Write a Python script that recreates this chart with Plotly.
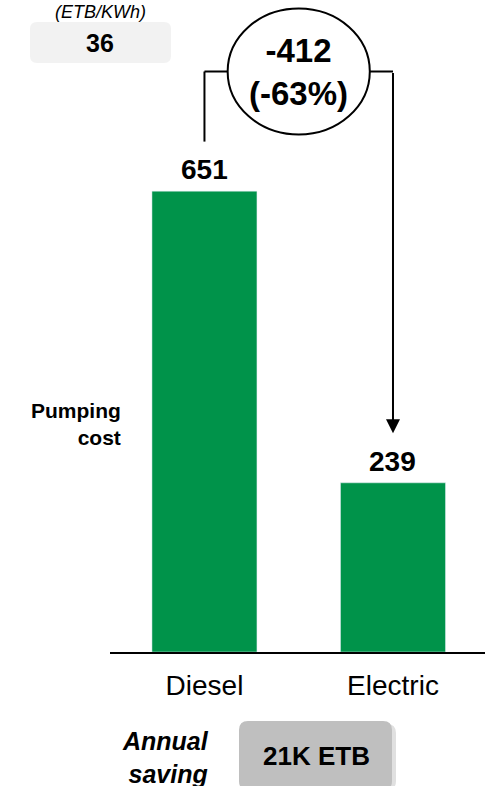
import plotly.graph_objects as go

# ---- data ----
categories = ["Diesel", "Electric"]
pumping_cost = [651, 239]
tariff_label = "(ETB/KWh)"
tariff_value = "36"
annual_saving = "21K ETB"
row_label = "Pumping<br>cost"
saving_label = "Annual<br>saving"

W, H = 485, 786
GREEN = "#00934A"
FONT = "Liberation Sans"

diff = pumping_cost[1] - pumping_cost[0]
pct = round(diff / pumping_cost[0] * 100)

def px(x):
    return x / W

def py(y):
    return 1 - y / H

def rounded_rect(x0, y0, x1, y1, r):
    # pixel coords -> paper path with quadratic corners
    rx, ry = r / W, r / H
    X0, X1 = px(x0), px(x1)
    Y0, Y1 = py(y0), py(y1)  # Y0 top (larger), Y1 bottom
    return (f"M{X0+rx},{Y0} L{X1-rx},{Y0} Q{X1},{Y0} {X1},{Y0-ry} "
            f"L{X1},{Y1+ry} Q{X1},{Y1} {X1-rx},{Y1} L{X0+rx},{Y1} "
            f"Q{X0},{Y1} {X0},{Y1+ry} L{X0},{Y0-ry} Q{X0},{Y0} {X0+rx},{Y0} Z")

fig = go.Figure()
fig.add_trace(go.Bar(x=categories, y=pumping_cost, marker_color=GREEN,
                     width=0.557, hoverinfo="skip"))

label_off = 70
bracket_y = 820
ell_rx, ell_ry = 0.377, 89

shapes = []
# bracket
shapes.append(dict(type="line", xref="x", yref="y", x0=0, x1=0,
                   y0=pumping_cost[0] + label_off, y1=bracket_y,
                   line=dict(color="black", width=2)))
shapes.append(dict(type="line", xref="x", yref="y", x0=0, x1=0.5 - ell_rx,
                   y0=bracket_y, y1=bracket_y, line=dict(color="black", width=2)))
shapes.append(dict(type="line", xref="x", yref="y", x0=0.5 + ell_rx, x1=1,
                   y0=bracket_y, y1=bracket_y, line=dict(color="black", width=2)))
shapes.append(dict(type="circle", xref="x", yref="y", x0=0.5 - ell_rx, x1=0.5 + ell_rx,
                   y0=bracket_y - ell_ry, y1=bracket_y + ell_ry,
                   line=dict(color="black", width=2), fillcolor="white"))
# tariff box
shapes.append(dict(type="path", xref="paper", yref="paper",
                   path=rounded_rect(30, 22, 171, 63, 7),
                   fillcolor="#F2F2F2", line=dict(width=0), layer="below"))
# saving box shadow + box
shapes.append(dict(type="path", xref="paper", yref="paper",
                   path=rounded_rect(242, 724, 396, 790, 9),
                   fillcolor="rgba(0,0,0,0.12)", line=dict(width=0)))
shapes.append(dict(type="path", xref="paper", yref="paper",
                   path=rounded_rect(239, 721, 392, 790, 9),
                   fillcolor="#BFBFBF", line=dict(width=0)))

annotations = []
for c, v in zip(categories, pumping_cost):
    annotations.append(dict(x=c, y=v, xref="x", yref="y", text=f"<b>{v}</b>",
                            showarrow=False, yanchor="bottom", yshift=4,
                            font=dict(size=28, color="black", family=FONT)))
annotations.append(dict(x=0.5, y=bracket_y, xref="x", yref="y",
                        text=f"<b>{diff}</b><br><b>({pct}%)</b>", showarrow=False,
                        yanchor="middle", xanchor="center",
                        font=dict(size=33, color="black", family=FONT)))
annotations.append(dict(x=1, y=pumping_cost[1] + label_off, ax=1, ay=bracket_y,
                        xref="x", yref="y", axref="x", ayref="y", text="",
                        showarrow=True, arrowhead=2, arrowsize=1.4, arrowwidth=2,
                        arrowcolor="black"))
annotations.append(dict(x=px(100), y=py(12), xref="paper", yref="paper",
                        text=f"<i>{tariff_label}</i>", showarrow=False,
                        xanchor="center", yanchor="middle",
                        font=dict(size=18, color="black", family=FONT)))
annotations.append(dict(x=px(100), y=py(43), xref="paper", yref="paper",
                        text=f"<b>{tariff_value}</b>", showarrow=False,
                        xanchor="center", yanchor="middle",
                        font=dict(size=25, color="black", family=FONT)))
annotations.append(dict(x=px(123), y=py(424), xref="paper", yref="paper",
                        text=f"<b>{row_label}</b>", showarrow=False, xanchor="right",
                        yanchor="middle", align="right",
                        font=dict(size=21, color="black", family=FONT)))
annotations.append(dict(x=px(211), y=py(757), xref="paper", yref="paper",
                        text=f"<b><i>{saving_label}</i></b>", showarrow=False,
                        xanchor="right", yanchor="middle", align="right",
                        font=dict(size=25, color="black", family=FONT)))
annotations.append(dict(x=px(316), y=py(756), xref="paper", yref="paper",
                        text=f"<b>{annual_saving}</b>", showarrow=False,
                        xanchor="center", yanchor="middle",
                        font=dict(size=26, color="black", family=FONT)))

fig.update_layout(
    width=W, height=H, margin=dict(l=0, r=0, t=0, b=0),
    paper_bgcolor="white", plot_bgcolor="white", showlegend=False,
    shapes=shapes, annotations=annotations,
    xaxis=dict(domain=[px(110), 1], range=[-0.501, 1.488], showline=True,
               linecolor="black", linewidth=2, showgrid=False, zeroline=False,
               ticks="", tickfont=dict(size=28, color="black", family=FONT),
               ticklabelstandoff=7, fixedrange=True),
    yaxis=dict(domain=[py(652), 1], range=[0, 921], visible=False,
               showgrid=False, zeroline=False, fixedrange=True),
    font=dict(family=FONT),
)

fig.write_html("out.html", config={"displayModeBar": False})
